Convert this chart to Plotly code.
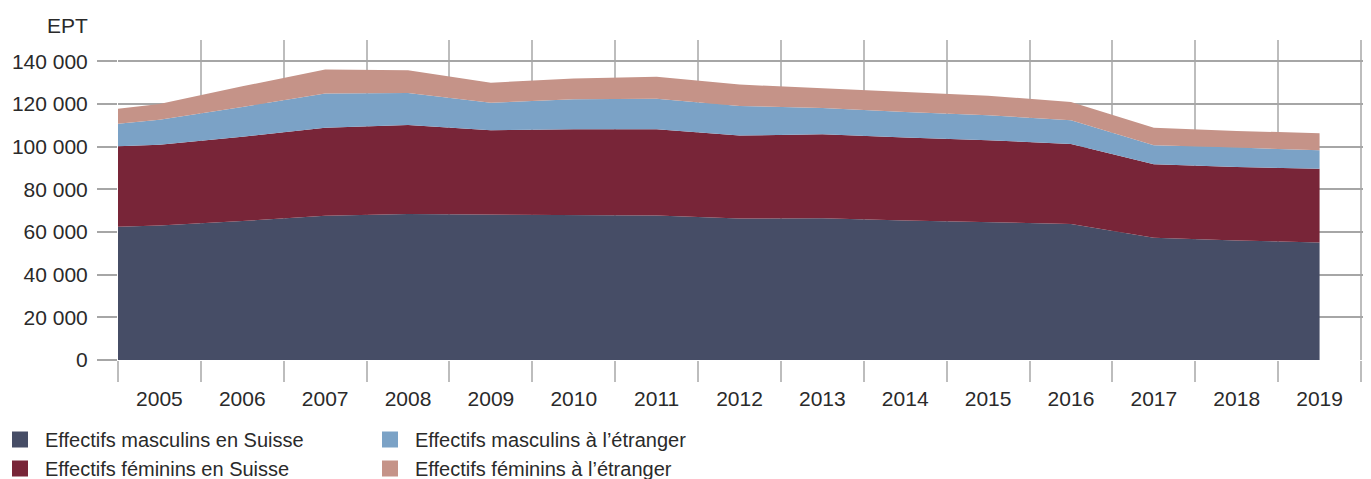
import plotly.graph_objects as go

years = [2004, 2005, 2006, 2007, 2008, 2009, 2010, 2011, 2012, 2013, 2014, 2015, 2016, 2017, 2018, 2019]
tick_years = [2005, 2006, 2007, 2008, 2009, 2010, 2011, 2012, 2013, 2014, 2015, 2016, 2017, 2018, 2019]
tick_labels = [str(y) for y in tick_years]
boundaries = [2004.5 + i for i in range(16)]

masc_suisse = [61800, 63100, 65100, 67600, 68400, 68200, 67900, 67700, 66300, 66500, 65400, 64600, 63800, 57300, 56000, 55100]
fem_suisse = [37700, 37800, 39500, 41300, 41800, 39500, 40300, 40500, 38900, 39300, 38900, 38400, 37500, 34500, 34500, 34500]
masc_etranger = [9500, 11700, 14000, 16000, 15000, 12900, 14000, 14300, 13900, 12300, 12000, 11700, 11100, 8900, 9100, 8700]
fem_etranger = [6600, 7400, 9700, 11300, 10600, 9400, 9800, 10300, 10000, 9300, 9200, 9200, 8500, 8200, 7800, 8000]

names = ["Effectifs masculins en Suisse", "Effectifs féminins en Suisse",
         "Effectifs masculins à l’étranger", "Effectifs féminins à l’étranger"]
series = [masc_suisse, fem_suisse, masc_etranger, fem_etranger]
colors = ["#464d66", "#782538", "#7ba2c6", "#c59388"]

FONT = "Liberation Sans, Arial, sans-serif"
TXT = "#2a2a2a"
FS = 21
LFS = 20

fig = go.Figure()
for n, s, c in zip(names, series, colors):
    fig.add_trace(go.Scatter(
        x=years, y=s, name=n, mode="lines", stackgroup="one",
        line=dict(width=0, color=c), fillcolor=c, showlegend=False,
        hoverinfo="skip"))

# legend entries (square markers), two columns
for i in range(4):
    fig.add_trace(go.Scatter(
        x=[None], y=[None], mode="markers", name=names[i],
        marker=dict(symbol="square", size=16, color=colors[i]),
        legend="legend" if i in (0, 1) else "legend2", showlegend=True))

# page has an 8px body margin: figure coords = page coords - 8
W, H = 1363, 471
L, R, T, B = 110, 0, 32, 119
pw = W - L - R
ph = H - T - B

def px_to_paper_x(px):
    return (px - L) / pw

def px_to_paper_y(py):
    return (H - B - py) / ph

unit = (1361 - 118) / 15.0

fig.update_layout(
    width=W, height=H,
    margin=dict(l=L, r=R, t=T, b=B, pad=0, autoexpand=False),
    paper_bgcolor="white", plot_bgcolor="white",
    font=dict(family=FONT, size=FS, color=TXT),
    separators=", ",
    xaxis=dict(
        range=[2004.5, 2004.5 + pw / unit],
        tickmode="array", tickvals=tick_years, ticktext=tick_labels,
        ticks="outside", ticklen=20, tickcolor="rgba(0,0,0,0)",
        showgrid=False, zeroline=False, showline=False,
        tickfont=dict(size=FS, color=TXT),
        minor=dict(tickmode="array", tickvals=boundaries, ticks="outside",
                   ticklen=21, tickwidth=1.5, tickcolor="#bdbdbd",
                   showgrid=True, gridcolor="#bdbdbd", gridwidth=1.5),
    ),
    yaxis=dict(
        range=[0, 150000], tickmode="array",
        tickvals=[0, 20000, 40000, 60000, 80000, 100000, 120000, 140000],
        tickformat=",d",
        ticks="outside", ticklen=20, tickwidth=1.5, tickcolor="#a6a6a6",
        showgrid=True, gridcolor="#a6a6a6", gridwidth=1.5,
        zeroline=False, showline=False,
        tickfont=dict(size=FS, color=TXT),
        ticklabelstandoff=5,
    ),
    legend=dict(
        orientation="v", x=px_to_paper_x(-13), xanchor="left",
        y=px_to_paper_y(412), yanchor="top", itemwidth=40,
        traceorder="normal",
        font=dict(size=LFS, color=TXT), bgcolor="rgba(0,0,0,0)",
        tracegroupgap=0),
    legend2=dict(
        orientation="v", x=px_to_paper_x(357), xanchor="left",
        y=px_to_paper_y(412), yanchor="top", itemwidth=40,
        traceorder="normal",
        font=dict(size=LFS, color=TXT), bgcolor="rgba(0,0,0,0)",
        tracegroupgap=0),
    annotations=[dict(
        text="EPT", xref="paper", yref="paper",
        x=px_to_paper_x(82), y=px_to_paper_y(17),
        xanchor="right", yanchor="middle", showarrow=False,
        font=dict(size=FS, color=TXT))],
)

fig.write_html("out.html")
